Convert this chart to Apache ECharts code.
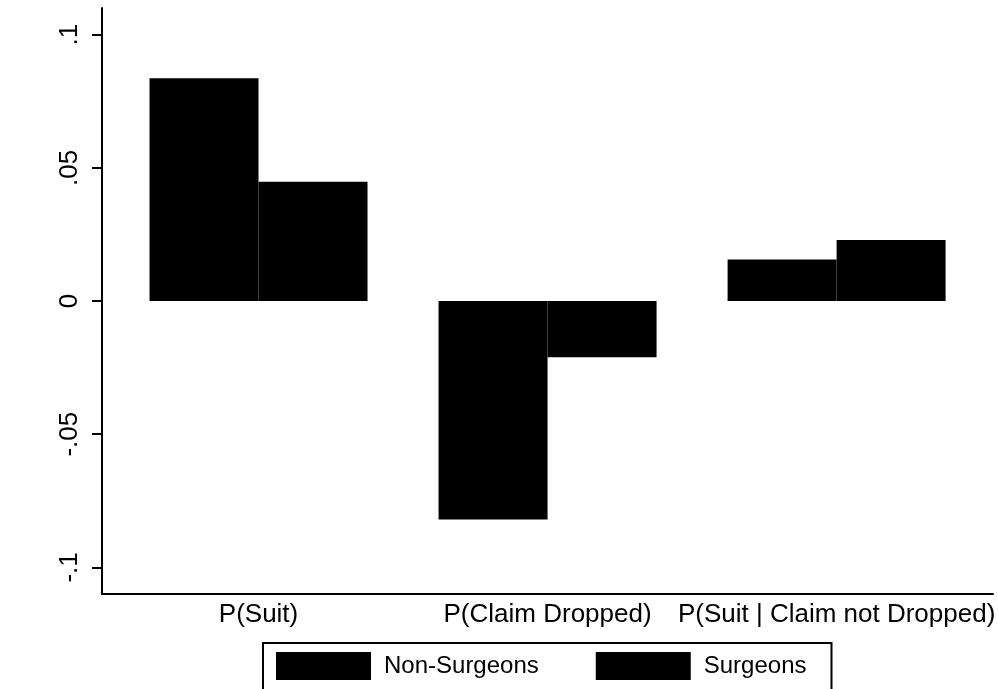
<!DOCTYPE html>
<html>
<head>
<meta charset="utf-8">
<script src="https://cdn.jsdelivr.net/npm/echarts@6/dist/echarts.min.js"></script>
<style>
  html, body { margin: 0; padding: 0; background: #ffffff; }
  #chart { width: 998px; height: 689px; }
</style>
</head>
<body>
<div id="chart"></div>
<script>
// ---- data ----
const categories = ['P(Suit)', 'P(Claim Dropped)', 'P(Suit | Claim not Dropped)'];
const nonSurgeons = [0.0836, -0.0820, 0.0156];
const surgeons = [0.0448, -0.0211, 0.0229];
const yTickValues = [-0.1, -0.05, 0, 0.05, 0.1];
const yTickLabels = ['-.1', '-.05', '0', '.05', '.1'];
const seriesNames = ['Non-Surgeons', 'Surgeons'];

const FONT = '"Liberation Sans", Arial, Helvetica, sans-serif';
const YMIN = -0.11, YMAX = 0.11;

const chart = echarts.init(document.getElementById('chart'), null, { renderer: 'canvas' });

chart.setOption({
  backgroundColor: '#ffffff',
  animation: false,
  textStyle: { fontFamily: FONT, color: '#000' },
  grid: [
    { left: 102, right: 5, top: 8, bottom: 95, containLabel: false },
    { left: 114, right: 15, top: 8, bottom: 95, containLabel: false }
  ],
  legend: {
    data: seriesNames,
    left: 263,
    top: 643,
    orient: 'horizontal',
    icon: 'rect',
    itemWidth: 95,
    itemHeight: 28,
    itemGap: 57,
    padding: [9, 25, 30, 13],
    borderColor: '#000',
    borderWidth: 2,
    borderRadius: 0,
    textStyle: { fontFamily: FONT, fontSize: 24, color: '#000', padding: [0, 0, 0, 8] },
    itemStyle: { color: '#000', borderWidth: 0 }
  },
  xAxis: [
    {
      gridIndex: 0, type: 'value', min: 0, max: 1,
      axisLine: { show: true, onZero: false, lineStyle: { color: '#000', width: 2 } },
      axisTick: { show: false }, axisLabel: { show: false }, splitLine: { show: false }
    },
    {
      gridIndex: 1, type: 'category', data: categories,
      axisLine: { show: false }, axisTick: { show: false }, splitLine: { show: false },
      axisLabel: { fontFamily: FONT, fontSize: 26, color: '#000', margin: 8, interval: 0 }
    }
  ],
  yAxis: [
    {
      gridIndex: 0, type: 'value', min: YMIN, max: YMAX,
      axisLine: { show: true, lineStyle: { color: '#000', width: 2 } },
      axisTick: { show: true, length: 10, inside: false, customValues: yTickValues, lineStyle: { color: '#000', width: 2 } },
      axisLabel: {
        show: true, rotate: 90, margin: 19, fontFamily: FONT, fontSize: 26, color: '#000',
        customValues: yTickValues,
        formatter: function (v) {
          for (let i = 0; i < yTickValues.length; i++) {
            if (Math.abs(yTickValues[i] - v) < 1e-9) return yTickLabels[i];
          }
          return '';
        }
      },
      splitLine: { show: false }
    },
    {
      gridIndex: 1, type: 'value', min: YMIN, max: YMAX, show: false,
      splitLine: { show: false }
    }
  ],
  series: [
    {
      name: seriesNames[0], type: 'bar', xAxisIndex: 1, yAxisIndex: 1,
      data: nonSurgeons, barWidth: 109, barGap: '0%',
      itemStyle: { color: '#000' }
    },
    {
      name: seriesNames[1], type: 'bar', xAxisIndex: 1, yAxisIndex: 1,
      data: surgeons, barWidth: 109, barGap: '0%',
      itemStyle: { color: '#000' }
    }
  ]
});
</script>
</body>
</html>
